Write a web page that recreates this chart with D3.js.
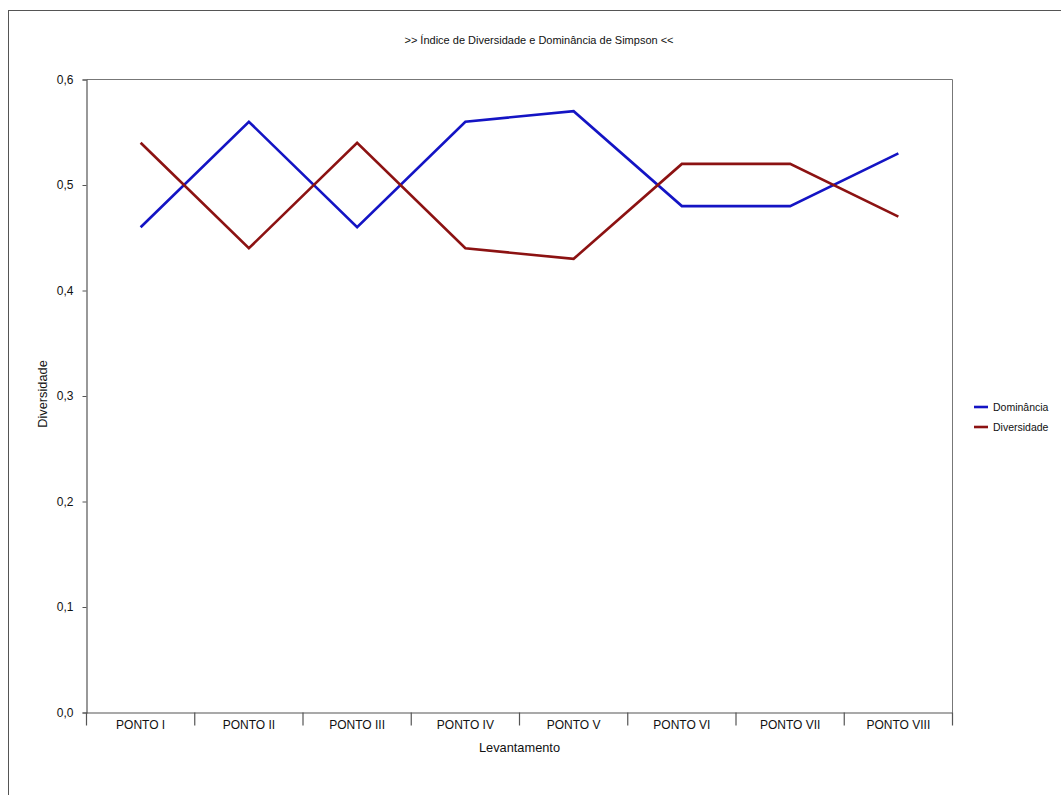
<!DOCTYPE html>
<html>
<head>
<meta charset="utf-8">
<script src="https://cdn.jsdelivr.net/npm/d3@7"></script>
<style>
  html, body { margin: 0; padding: 0; background: #fff; }
  svg { display: block; font-family: Arial, "Liberation Sans", sans-serif; }
</style>
</head>
<body>
<svg id="chart" width="1061" height="795"></svg>
<script>
// Simpson diversity / dominance per sampling point
const categories = ["PONTO I", "PONTO II", "PONTO III", "PONTO IV", "PONTO V", "PONTO VI", "PONTO VII", "PONTO VIII"];
const dominancia = [0.46, 0.56, 0.46, 0.56, 0.57, 0.48, 0.48, 0.53];
const diversidade = [0.54, 0.44, 0.54, 0.44, 0.43, 0.52, 0.52, 0.47];
const yTicks = [0, 0.1, 0.2, 0.3, 0.4, 0.5, 0.6];
const seriesNames = ["Dominância", "Diversidade"];
const seriesColors = ["#1414c4", "#8c1212"];
const title = ">> Índice de Diversidade e Dominância de Simpson <<";
const xTitle = "Levantamento";
const yTitle = "Diversidade";

const series = [
  { name: seriesNames[0], values: dominancia, color: seriesColors[0] },
  { name: seriesNames[1], values: diversidade, color: seriesColors[1] }
];

const svg = d3.select("#chart");
const plot = { left: 86.5, top: 79.5, right: 952.5, bottom: 712.5 };
const axisColor = "#555";

// outer frame (continues past the right/bottom edges of the page)
svg.append("rect")
  .attr("x", 8.5).attr("y", 10.5)
  .attr("width", 1100).attr("height", 900)
  .attr("fill", "none").attr("stroke", "#555").attr("stroke-width", 1);

const x = d3.scaleBand().domain(categories).range([plot.left, plot.right]);
const y = d3.scaleLinear().domain([0, 0.6]).range([plot.bottom, plot.top]);

// plot frame: top and right edges
svg.append("path")
  .attr("d", `M${plot.left},${plot.top}H${plot.right}V${plot.bottom}`)
  .attr("fill", "none").attr("stroke", "#777").attr("stroke-width", 1);

// y axis
const yAxis = svg.append("g")
  .attr("transform", `translate(${plot.left},0)`)
  .call(d3.axisLeft(y).tickValues(yTicks).tickSize(4).tickPadding(9)
    .tickFormat(d => d3.format(".1f")(d).replace(".", ",")));
yAxis.select(".domain").attr("stroke", axisColor).attr("stroke-width", 1.2);
yAxis.selectAll(".tick line").attr("stroke", axisColor);
yAxis.selectAll(".tick text").attr("fill", "#111").style("font-size", "12px");

// x axis with separators between categories
const xAxis = svg.append("g")
  .attr("transform", `translate(0,${plot.bottom})`)
  .call(d3.axisBottom(x).tickSize(0).tickPadding(8));
xAxis.select(".domain").attr("stroke", axisColor).attr("stroke-width", 1.2);
xAxis.selectAll(".tick text").attr("fill", "#111").style("font-size", "12px");

const bounds = categories.map(c => x(c)).concat([x(categories[categories.length - 1]) + x.bandwidth()]);
svg.append("g").selectAll("line").data(bounds).join("line")
  .attr("x1", d => d).attr("x2", d => d)
  .attr("y1", plot.bottom).attr("y2", plot.bottom + 13)
  .attr("stroke", axisColor).attr("stroke-width", 1.2);

// series lines
const line = d3.line()
  .x((d, i) => x(categories[i]) + x.bandwidth() / 2)
  .y(d => y(d));

svg.append("g").selectAll("path").data(series).join("path")
  .attr("d", d => line(d.values))
  .attr("fill", "none")
  .attr("stroke", d => d.color)
  .attr("stroke-width", 2.6)
  .attr("stroke-linejoin", "miter");

// titles
svg.append("text")
  .attr("x", 539).attr("y", 44)
  .attr("text-anchor", "middle")
  .style("font-size", "11px").attr("fill", "#111")
  .text(title);

svg.append("text")
  .attr("x", (plot.left + plot.right) / 2).attr("y", 752)
  .attr("text-anchor", "middle")
  .style("font-size", "12.8px").attr("fill", "#111")
  .text(xTitle);

svg.append("text")
  .attr("transform", `translate(47,${(plot.top + plot.bottom) / 2 - 2}) rotate(-90)`)
  .attr("text-anchor", "middle")
  .style("font-size", "12.8px").attr("fill", "#111")
  .text(yTitle);

// legend
const legend = svg.append("g").attr("transform", "translate(974,407)");
const items = legend.selectAll("g").data(series).join("g")
  .attr("transform", (d, i) => `translate(0,${i * 20})`);
items.append("line")
  .attr("x1", 0).attr("x2", 14)
  .attr("stroke", d => d.color).attr("stroke-width", 2.6);
items.append("text")
  .attr("x", 19).attr("y", 4)
  .style("font-size", "10.5px").attr("fill", "#111")
  .text(d => d.name);
</script>
</body>
</html>
